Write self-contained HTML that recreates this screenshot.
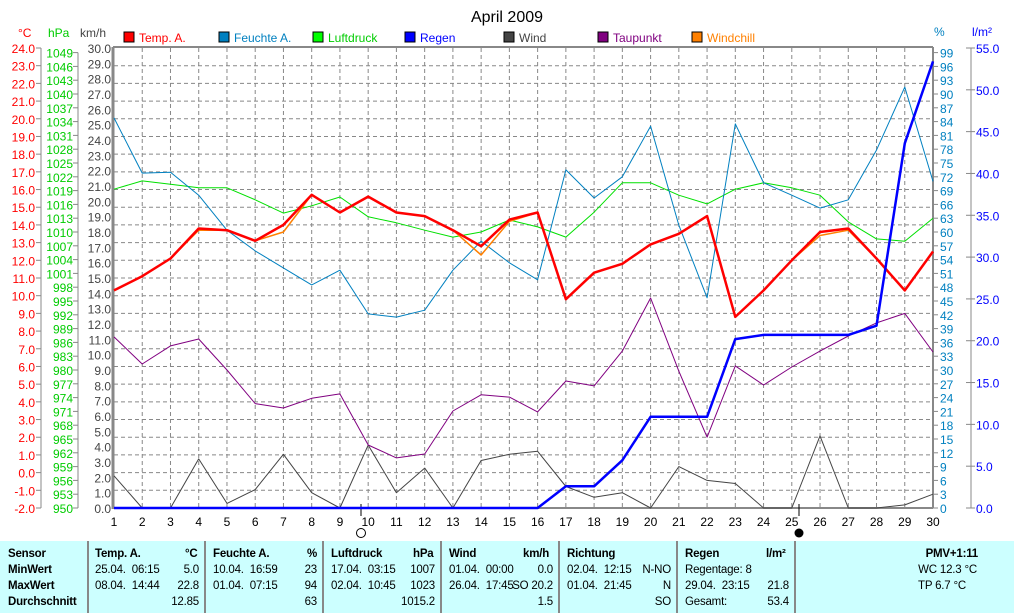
<!DOCTYPE html>
<html><head><meta charset="utf-8"><style>
body{margin:0;background:#fff;width:1014px;height:613px;overflow:hidden;font-family:"Liberation Sans",sans-serif}
svg text{font-family:"Liberation Sans",sans-serif;font-size:12px}
#tbl{position:absolute;left:0;top:541px;width:1014px;height:72px;background:#ccffff;font-size:11px}
.c{position:absolute;top:0;height:72px;border-right:2px solid #888}
.r{position:absolute;white-space:nowrap;font-size:11.5px;letter-spacing:-0.2px}
.b{font-weight:bold}
</style></head><body>
<svg id="chart" width="1014" height="541" style="position:absolute;left:0;top:0"></svg>
<div id="tbl">
<div class="c" style="left:0;width:87px"></div>
<div class="c" style="left:88px;width:116px"></div>
<div class="c" style="left:206px;width:116px"></div>
<div class="c" style="left:324px;width:116px"></div>
<div class="c" style="left:442px;width:116px"></div>
<div class="c" style="left:560px;width:116px"></div>
<div class="c" style="left:678px;width:116px"></div>
<div class="r b" style="left:8px;top:7px">Sensor</div><div class="r b" style="left:8px;top:23px">MinWert</div><div class="r b" style="left:8px;top:39px">MaxWert</div><div class="r b" style="left:8px;top:55px">Durchschnitt</div>
<div class="r b" style="left:95px;top:7px">Temp. A.</div><div class="r b" style="left:185px;top:7px">°C</div>
<div class="r" style="left:95px;top:23px">25.04.&nbsp; 06:15</div><div class="r" style="right:815px;top:23px">5.0</div>
<div class="r" style="left:95px;top:39px">08.04.&nbsp; 14:44</div><div class="r" style="right:815px;top:39px">22.8</div>
<div class="r" style="right:815px;top:55px">12.85</div>
<div class="r b" style="left:213px;top:7px">Feuchte A.</div><div class="r b" style="left:307px;top:7px">%</div>
<div class="r" style="left:213px;top:23px">10.04.&nbsp; 16:59</div><div class="r" style="right:697px;top:23px">23</div>
<div class="r" style="left:213px;top:39px">01.04.&nbsp; 07:15</div><div class="r" style="right:697px;top:39px">94</div>
<div class="r" style="right:697px;top:55px">63</div>
<div class="r b" style="left:331px;top:7px">Luftdruck</div><div class="r b" style="left:413px;top:7px">hPa</div>
<div class="r" style="left:331px;top:23px">17.04.&nbsp; 03:15</div><div class="r" style="right:579px;top:23px">1007</div>
<div class="r" style="left:331px;top:39px">02.04.&nbsp; 10:45</div><div class="r" style="right:579px;top:39px">1023</div>
<div class="r" style="right:579px;top:55px">1015.2</div>
<div class="r b" style="left:449px;top:7px">Wind</div><div class="r b" style="left:523px;top:7px">km/h</div>
<div class="r" style="left:449px;top:23px">01.04.&nbsp; 00:00</div><div class="r" style="right:461px;top:23px">0.0</div>
<div class="r" style="left:449px;top:39px">26.04.&nbsp; 17:45</div><div class="r" style="right:461px;top:39px">SO 20.2</div>
<div class="r" style="right:461px;top:55px">1.5</div>
<div class="r b" style="left:567px;top:7px">Richtung</div>
<div class="r" style="left:567px;top:23px">02.04.&nbsp; 12:15</div><div class="r" style="right:343px;top:23px">N-NO</div>
<div class="r" style="left:567px;top:39px">01.04.&nbsp; 21:45</div><div class="r" style="right:343px;top:39px">N</div>
<div class="r" style="right:343px;top:55px">SO</div>
<div class="r b" style="left:685px;top:7px">Regen</div><div class="r b" style="left:766px;top:7px">l/m²</div>
<div class="r" style="left:685px;top:23px">Regentage: 8</div>
<div class="r" style="left:685px;top:39px">29.04.&nbsp; 23:15</div><div class="r" style="right:225px;top:39px">21.8</div>
<div class="r" style="left:685px;top:55px">Gesamt:</div><div class="r" style="right:225px;top:55px">53.4</div>
<div class="r b" style="right:36px;top:7px">PMV+1:11</div>
<div class="r" style="right:37px;top:23px">WC 12.3 °C</div>
<div class="r" style="right:48px;top:39px">TP 6.7 °C</div>
</div>
<script>
const days=[1,2,3,4,5,6,7,8,9,10,11,12,13,14,15,16,17,18,19,20,21,22,23,24,25,26,27,28,29,30];
const temp=[10.3,11.1,12.1,13.8,13.7,13.1,14.0,15.7,14.7,15.6,14.7,14.5,13.7,12.8,14.3,14.7,9.8,11.3,11.8,12.9,13.5,14.5,8.8,10.3,12.0,13.6,13.8,12.1,10.3,12.5];
const windchill=[10.3,11.1,12.1,13.7,13.7,13.1,13.6,15.7,14.7,15.6,14.7,14.5,13.7,12.3,14.2,14.7,9.8,11.3,11.8,12.9,13.5,14.5,8.8,10.3,12.0,13.4,13.7,12.1,10.3,12.5];
const humidity=[84.8,72.8,73,68,60.4,55.9,52.2,48.5,51.7,42.2,41.5,43,51.7,58,53.3,49.6,73.5,67.4,72,83,61.5,45.7,83.5,70.7,68,65.2,67,77.8,91.5,71];
const pressure=[1019.3,1021.1,1020.4,1019.6,1019.6,1017,1014.1,1015.7,1017.6,1013.3,1012,1010.4,1008.9,1010,1012.6,1011.1,1008.9,1014.3,1020.7,1020.7,1018,1016.1,1019.3,1020.7,1019.6,1018,1012.2,1008.5,1008,1013];
const rain=[0,0,0,0,0,0,0,0,0,0,0,0,0,0,0,0,2.6,2.6,5.7,10.9,10.9,10.9,20.2,20.7,20.7,20.7,20.7,21.8,43.6,53.4];
const wind=[2.1,0,0,3.2,0.3,1.2,3.5,1.0,0,4.1,1.0,2.6,0,3.1,3.5,3.7,1.4,0.7,1.0,0,2.7,1.8,1.6,0,0,4.7,0,0,0.2,0.9];
const dewpoint=[7.67,6.14,7.16,7.55,5.8,3.9,3.65,4.2,4.45,1.56,0.83,1.05,3.48,4.4,4.27,3.43,5.18,4.9,6.87,9.87,5.74,2.0,6.03,4.95,5.97,6.87,7.72,8.46,9.0,6.82];
const tempTicks=[-2,-1,0,1,2,3,4,5,6,7,8,9,10,11,12,13,14,15,16,17,18,19,20,21,22,23,24];
const hpaTicks=[950,953,956,959,962,965,968,971,974,977,980,983,986,989,992,995,998,1001,1004,1007,1010,1013,1016,1019,1022,1025,1028,1031,1034,1037,1040,1043,1046,1049];
const kmhTicks=[0,1,2,3,4,5,6,7,8,9,10,11,12,13,14,15,16,17,18,19,20,21,22,23,24,25,26,27,28,29,30];
const pctTicks=[0,3,6,9,12,15,18,21,24,27,30,33,36,39,42,45,48,51,54,57,60,63,66,69,72,75,78,81,84,87,90,93,96,99];
const rainTicks=[0,5,10,15,20,25,30,35,40,45,50,55];

const L=114,R=933,T=48,B=508,H=B-T;
const X=d=>L+(d-1)*(R-L)/29;
const yT=v=>B-(v+2)/26*H, yP=v=>B-(v-950)/100*H, yK=v=>B-v/30*H, yH=v=>B-v/100*H, yR=v=>B-v/55*H;
const svg=document.getElementById('chart');const NS='http://www.w3.org/2000/svg';
function el(t,a,txt){const e=document.createElementNS(NS,t);for(const k in a)e.setAttribute(k,a[k]);if(txt!=null)e.textContent=txt;svg.appendChild(e);return e;}
let e;
e=el('text',{x:507,y:22,'text-anchor':'middle',style:'font-size:16px'},'April 2009');


tempTicks.forEach(v=>{if(v>-2&&v<24){e=el('line',{x1:L,x2:R,y1:yT(v),y2:yT(v),stroke:'#888','stroke-dasharray':'4,3'});

}});
days.forEach(d=>{if(d>1&&d<30){e=el('line',{x1:X(d),x2:X(d),y1:T,y2:B,stroke:'#888','stroke-dasharray':'4,3'});

}});
el('line',{x1:L-1,x2:L-1,y1:T-1,y2:B+1,stroke:'#888','stroke-width':3});
el('line',{x1:L-1,x2:R,y1:T-1,y2:T-1,stroke:'#888','stroke-width':2});
el('line',{x1:R,x2:R,y1:T-1,y2:B,stroke:'#888','stroke-width':2});
el('line',{x1:L,x2:R,y1:B,y2:B,stroke:'#888','stroke-width':2});
el('line',{x1:41,x2:41,y1:T,y2:B,stroke:'#888'});
el('line',{x1:78,x2:78,y1:yP(1049),y2:B,stroke:'#888'});
el('line',{x1:971,x2:971,y1:T,y2:B,stroke:'#888'});
el('text',{x:18,y:37,fill:'#f00'},'°C');el('text',{x:48,y:37,fill:'#0c0'},'hPa');el('text',{x:80,y:37,fill:'#444'},'km/h');
el('text',{x:934,y:36,fill:'#0080c0'},'%');el('text',{x:972,y:36,fill:'#00f'},'l/m²');
tempTicks.forEach(v=>{el('line',{x1:36,x2:41,y1:yT(v),y2:yT(v),stroke:'#888'});
e=el('text',{x:35,y:yT(v)+5,fill:'#f00','text-anchor':'end'},v.toFixed(1));

});
hpaTicks.forEach(v=>{el('line',{x1:73,x2:78,y1:yP(v),y2:yP(v),stroke:'#888'});
e=el('text',{x:73,y:yP(v)+5,fill:'#0c0','text-anchor':'end'},v);

});
kmhTicks.forEach(v=>{e=el('text',{x:111,y:yK(v)+5,fill:'#444','text-anchor':'end'},v.toFixed(1));

});
pctTicks.forEach(v=>{el('line',{x1:R,x2:R+5,y1:yH(v),y2:yH(v),stroke:'#888'});
e=el('text',{x:940,y:yH(v)+5,fill:'#0080c0'},v);

});
rainTicks.forEach(v=>{el('line',{x1:966,x2:975,y1:yR(v),y2:yR(v),stroke:'#888'});
e=el('text',{x:976,y:yR(v)+5,fill:'#00f'},v.toFixed(1));

});
days.forEach(d=>{e=el('text',{x:X(d),y:526,'text-anchor':'middle',fill:'#000'},d);

});
el('line',{x1:361,x2:361,y1:504,y2:516,stroke:'#000'});el('line',{x1:799,x2:799,y1:504,y2:516,stroke:'#000'});
e=el('circle',{cx:361,cy:533,r:4.5,fill:'#fff',stroke:'#000','stroke-width':1});


e=el('circle',{cx:799,cy:533,r:4.5,fill:'#000'});


function series(arr,fy,color,w){const p=arr.map((v,i)=>X(days[i]).toFixed(1)+','+fy(v).toFixed(1)).join(' ');
return el('polyline',{points:p,fill:'none',stroke:color,'stroke-width':w,'stroke-linejoin':'round'});}
e=series(wind,yK,'#444',1);


e=series(dewpoint,yT,'#800080',1);


e=series(pressure,yP,'#00e000',1);


e=series(humidity,yH,'#0080c0',1);


e=series(windchill,yT,'#ff8000',1.5);


e=series(temp,yT,'#f00',2.5);


e=series(rain,yR,'#0000ff',2.5);


const legNames=['Temp. A.','Feuchte A.','Luftdruck','Regen','Wind','Taupunkt','Windchill'];
const legColors=['#f00','#0080c0','#0f0','#00f','#444','#800080','#ff8000'];
const legX=[124,219,313,405,504,598,692];
legNames.forEach((n,i)=>{e=el('rect',{x:legX[i],y:32,width:10,height:10,fill:legColors[i],stroke:'#000'});


e=el('text',{x:legX[i]+15,y:42,fill:legColors[i]==='#0f0'?'#0c0':legColors[i]},n);

});
</script>
</body></html>
